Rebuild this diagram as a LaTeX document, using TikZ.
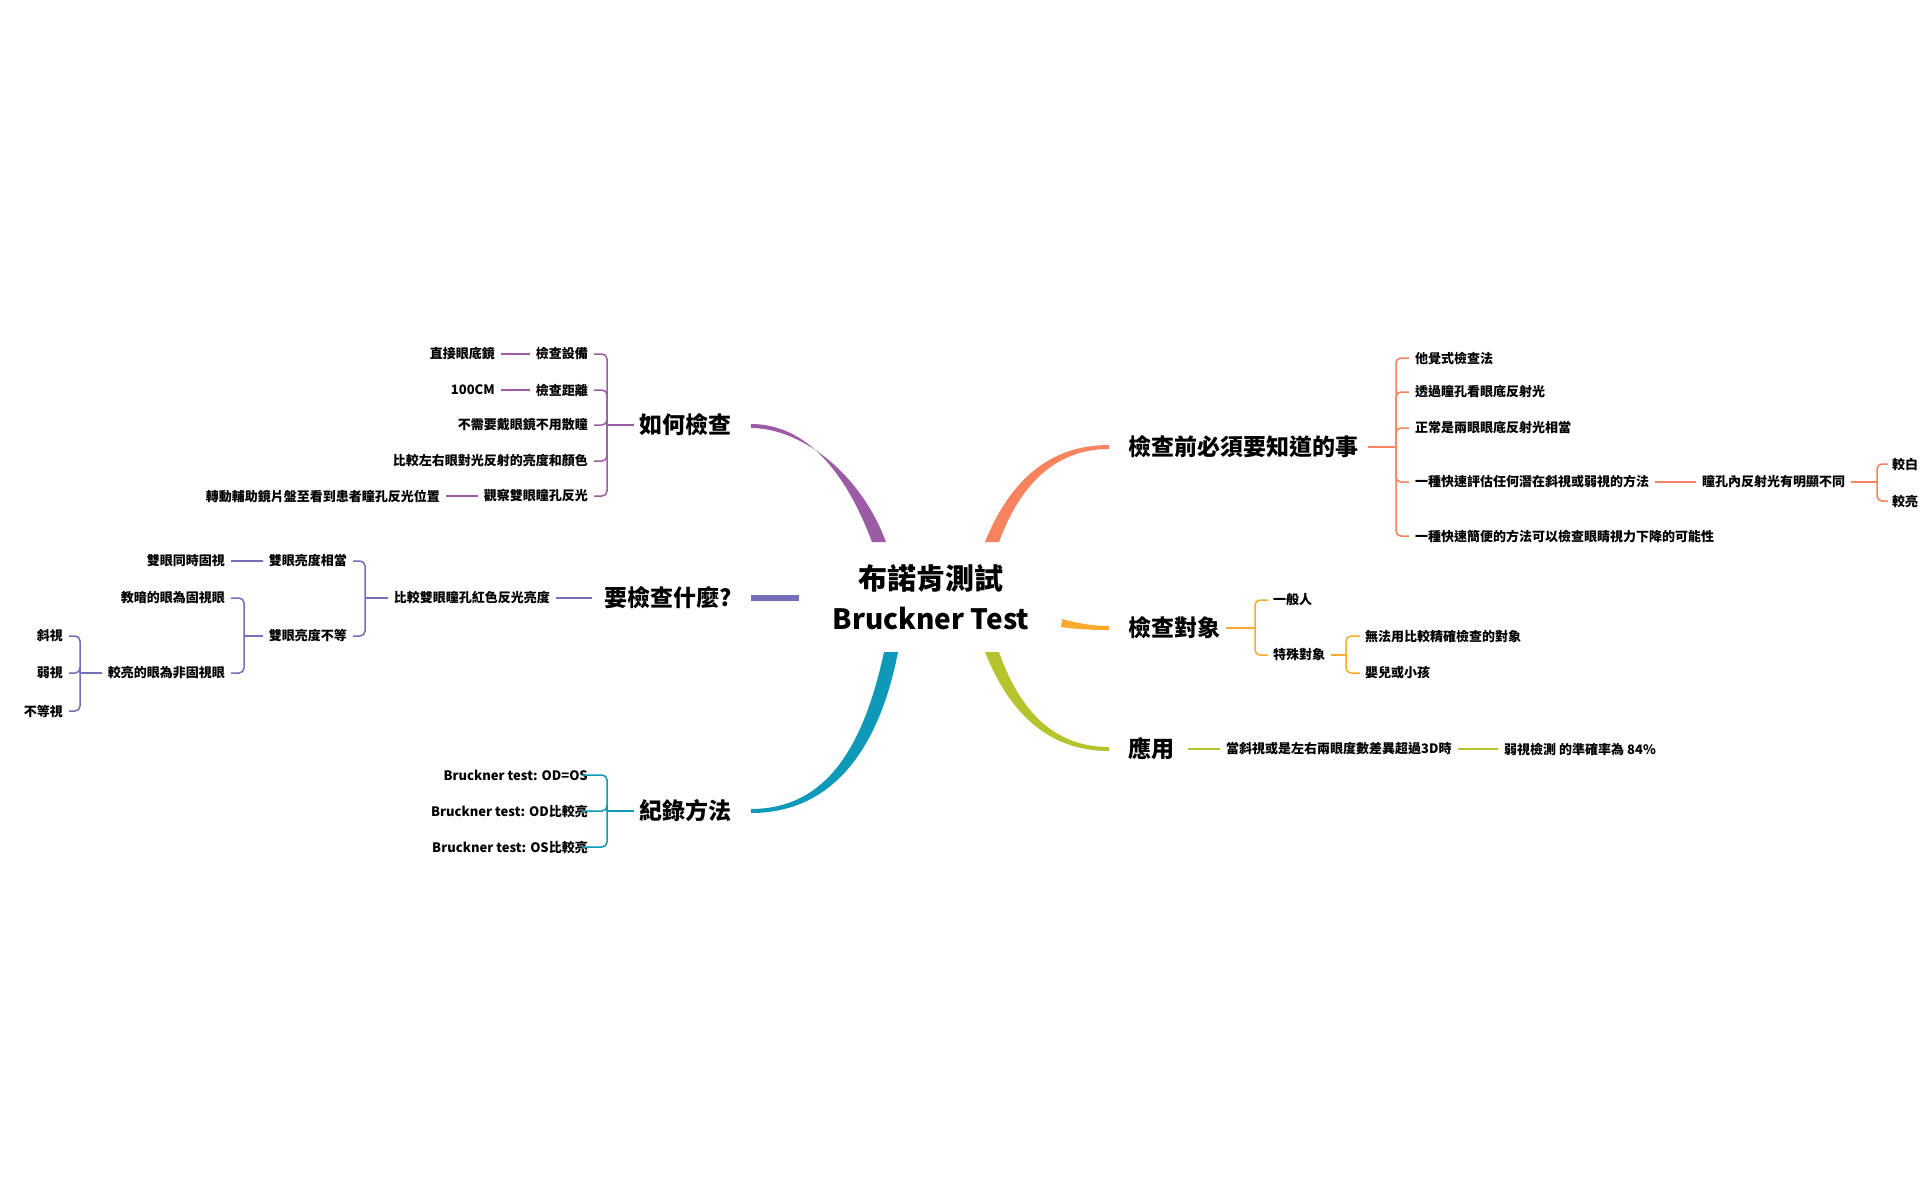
\documentclass[tikz,border=0pt]{standalone}
\usepackage{fontspec}
\setmainfont{Noto Sans CJK TC}
\begin{document}
\begin{tikzpicture}[x=1pt,y=-1pt,
  sm/.style={font=\fontsize{13}{15}\selectfont\bfseries,inner sep=0pt},
  big/.style={font=\fontsize{23}{27}\selectfont\bfseries,inner sep=0pt},
  ln/.style={line width=1.5pt},
  L/.style={sm,anchor=east},R/.style={sm,anchor=west}]
\definecolor{cp}{HTML}{9B5BA5}\definecolor{cs}{HTML}{7470B8}\definecolor{ct}{HTML}{0E99B8}
\definecolor{co}{HTML}{F7845E}\definecolor{cy}{HTML}{FBAA2E}\definecolor{cg}{HTML}{B5C42D}
\useasboundingbox[fill=white] (0,0) rectangle (1931,1195);
% center
\node[font=\fontsize{29}{33}\selectfont\bfseries,inner sep=0pt] (t1) at (931,578) {布諾肯測試};
\node[font=\fontsize{28}{33}\selectfont\bfseries,inner sep=0pt] (t2) at (931,618) {Bruckner Test};
% main branches (tapered)
\fill[cp] (872,542) .. controls (845,470) and (805,424) .. (751,424) -- (751,428) .. controls (800,428) and (860,472) .. (886,542) -- cycle;
\fill[ct] (884,652) .. controls (865,740) and (830,809) .. (751,809) -- (751,813) .. controls (835,813) and (880,745) .. (898,652) -- cycle;
\fill[co] (985,542) .. controls (1010,480) and (1050,445) .. (1109,445) -- (1109,449) .. controls (1055,449) and (1020,485) .. (999,542) -- cycle;
\fill[cg] (985,652) .. controls (1010,715) and (1050,751) .. (1109,751) -- (1109,747) .. controls (1055,747) and (1020,712) .. (999,652) -- cycle;
\fill[cy] (1062,619) .. controls (1080,624) and (1095,626) .. (1109,626) -- (1109,630) .. controls (1090,630) and (1075,629) .. (1061,627) -- cycle;
\fill[cs] (751,595) rectangle (799,601);
% labels
\node[big,anchor=east] (how) at (732,425) {如何檢查};
\node[big,anchor=east] (what) at (732,598) {要檢查什麼?};
\node[big,anchor=east] (rec) at (732,811) {紀錄方法};
\node[big,anchor=west] (know) at (1128,447) {檢查前必須要知道的事};
\node[big,anchor=west] (who) at (1128,628) {檢查對象};
\node[big,anchor=west] (use) at (1128,749) {應用};
% how
\node[L] (h1) at (588,354) {檢查設備};
\node[L] (h2) at (588,390) {檢查距離};
\node[L] (h3) at (588,425) {不需要戴眼鏡不用散瞳};
\node[L] (h4) at (588,461) {比較左右眼對光反射的亮度和顏色};
\node[L] (h5) at (588,496) {觀察雙眼瞳孔反光};
\node[L] (h1a) at (495,354) {直接眼底鏡};
\node[L] (h2a) at (495,390) {100CM};
\node[L] (h5a) at (440,496) {轉動輔助鏡片盤至看到患者瞳孔反光位置};
\coordinate (hb) at (607,425);
\draw[ln,cp] ([xshift=-6]how.west) -- (hb);
\foreach \c in {h1,h2,h3,h4,h5}{\draw[ln,cp,rounded corners=5] (hb) |- ([xshift=6]\c.east);}
\draw[ln,cp] ([xshift=-6]h1.west) -- ([xshift=6]h1a.east);
\draw[ln,cp] ([xshift=-6]h2.west) -- ([xshift=6]h2a.east);
\draw[ln,cp] ([xshift=-6]h5.west) -- ([xshift=6]h5a.east);
% what
\node[L] (w1) at (550,598) {比較雙眼瞳孔紅色反光亮度};
\draw[ln,cs] ([xshift=-12]what.west) -- ([xshift=6]w1.east);
\coordinate (wb) at (365,598);
\draw[ln,cs] ([xshift=-6]w1.west) -- (wb);
\node[L] (w2) at (347,561) {雙眼亮度相當};
\node[L] (w3) at (347,636) {雙眼亮度不等};
\foreach \c in {w2,w3}{\draw[ln,cs,rounded corners=5] (wb) |- ([xshift=6]\c.east);}
\node[L] (w2a) at (225,561) {雙眼同時固視};
\draw[ln,cs] ([xshift=-6]w2.west) -- ([xshift=6]w2a.east);
\coordinate (wb2) at (244,636);
\draw[ln,cs] ([xshift=-6]w3.west) -- (wb2);
\node[L] (w4) at (225,598) {教暗的眼為固視眼};
\node[L] (w5) at (225,673) {較亮的眼為非固視眼};
\foreach \c in {w4,w5}{\draw[ln,cs,rounded corners=5] (wb2) |- ([xshift=6]\c.east);}
\coordinate (wb3) at (80,673);
\draw[ln,cs] ([xshift=-6]w5.west) -- (wb3);
\node[L] (w6) at (63,636) {斜視};
\node[L] (w7) at (63,673) {弱視};
\node[L] (w8) at (63,711) {不等視};
\foreach \c in {w6,w7,w8}{\draw[ln,cs,rounded corners=5] (wb3) |- ([xshift=6]\c.east);}
% record
\coordinate (rb) at (607,811);
\draw[ln,ct] ([xshift=-6]rec.west) -- (rb);
\node[L] (r1) at (588,775) {Bruckner test: OD=OS};
\node[L] (r2) at (588,811) {Bruckner test: OD比較亮};
\node[L] (r3) at (588,847) {Bruckner test: OS比較亮};
\foreach \c in {r1,r2,r3}{\draw[ln,ct,rounded corners=5] (rb) |- ([xshift=-6]\c.east);}
% know
\coordinate (kb) at (1396,447);
\draw[ln,co] ([xshift=10]know.east) -- (kb);
\node[R] (k1) at (1415,358) {他覺式檢查法};
\node[R] (k2) at (1415,392) {透過瞳孔看眼底反射光};
\node[R] (k3) at (1415,428) {正常是兩眼眼底反射光相當};
\node[R] (k4) at (1415,482) {一種快速評估任何潛在斜視或弱視的方法};
\node[R] (k5) at (1415,536) {一種快速簡便的方法可以檢查眼睛視力下降的可能性};
\foreach \c in {k1,k2,k3,k4,k5}{\draw[ln,co,rounded corners=5] (kb) |- ([xshift=-6]\c.west);}
\node[R] (k6) at (1702,482) {瞳孔內反射光有明顯不同};
\draw[ln,co] ([xshift=6]k4.east) -- ([xshift=-6]k6.west);
\coordinate (kb2) at (1877,482);
\draw[ln,co] ([xshift=6]k6.east) -- (kb2);
\node[R] (k7) at (1892,464) {較白};
\node[R] (k8) at (1892,501) {較亮};
\foreach \c in {k7,k8}{\draw[ln,co,rounded corners=5] (kb2) |- ([xshift=-4]\c.west);}
% who
\coordinate (ob) at (1255,628);
\draw[ln,cy] ([xshift=6]who.east) -- (ob);
\node[R] (o1) at (1273,600) {一般人};
\node[R] (o2) at (1273,655) {特殊對象};
\foreach \c in {o1,o2}{\draw[ln,cy,rounded corners=5] (ob) |- ([xshift=-5]\c.west);}
\coordinate (ob2) at (1346,655);
\draw[ln,cy] ([xshift=6]o2.east) -- (ob2);
\node[R] (o3) at (1365,636) {無法用比較精確檢查的對象};
\node[R] (o4) at (1365,673) {嬰兒或小孩};
\foreach \c in {o3,o4}{\draw[ln,cy,rounded corners=5] (ob2) |- ([xshift=-5]\c.west);}
% use
\node[R] (u1) at (1226,749) {當斜視或是左右兩眼度數差異超過3D時};
\node[R] (u2) at (1504,749) {弱視檢測 的準確率為 84\%};
\draw[ln,cg] ([xshift=14]use.east) -- ([xshift=-6]u1.west);
\draw[ln,cg] ([xshift=6]u1.east) -- ([xshift=-6]u2.west);
\end{tikzpicture}
\end{document}
